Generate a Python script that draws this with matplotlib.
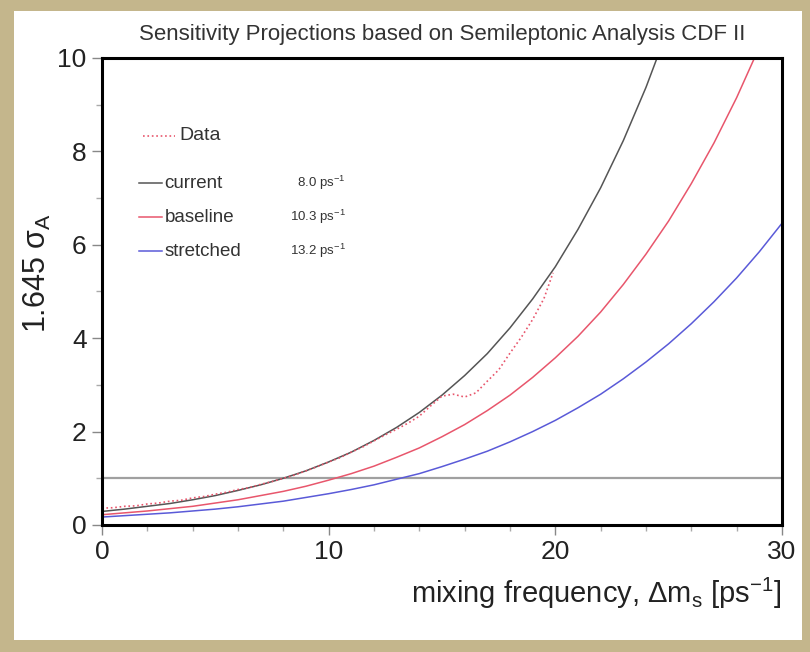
import numpy as np
import matplotlib.pyplot as plt
from matplotlib.patches import Rectangle
from matplotlib.ticker import MultipleLocator

plt.rcParams['font.family'] = ['Liberation Sans', 'DejaVu Sans']
plt.rcParams['mathtext.fontset'] = 'custom'
plt.rcParams['mathtext.rm'] = 'Liberation Sans'
plt.rcParams['mathtext.it'] = 'Liberation Sans:italic'

# curves (dm_s in ps^-1, 1.645 sigma_A)
x_current = [0, 1, 2, 3, 4, 5, 6, 7, 8, 9, 10, 11, 12, 13, 14, 15, 16, 17, 18, 19, 20, 21, 22, 23, 24, 25, 26]
y_current = [0.29, 0.34, 0.40, 0.46, 0.54, 0.63, 0.74, 0.86, 1.00, 1.16, 1.35, 1.56, 1.81, 2.09, 2.41,
             2.78, 3.20, 3.67, 4.22, 4.84, 5.53, 6.33, 7.22, 8.23, 9.37, 10.66, 12.1]

x_baseline = [0, 1, 2, 3, 4, 5, 6, 7, 8, 9, 10, 11, 12, 13, 14, 15, 16, 17, 18, 19, 20, 21, 22, 23, 24,
              25, 26, 27, 28, 29, 30]
y_baseline = [0.22, 0.26, 0.30, 0.35, 0.40, 0.47, 0.54, 0.63, 0.72, 0.83, 0.96, 1.10, 1.26, 1.45, 1.65,
              1.89, 2.15, 2.45, 2.78, 3.16, 3.58, 4.04, 4.56, 5.15, 5.80, 6.51, 7.31, 8.18, 9.15, 10.23, 11.4]

x_stretched = [0, 1, 2, 3, 4, 5, 6, 7, 8, 9, 10, 11, 12, 13, 14, 15, 16, 17, 18, 19, 20, 21, 22, 23, 24,
               25, 26, 27, 28, 29, 30]
y_stretched = [0.17, 0.20, 0.23, 0.26, 0.30, 0.34, 0.39, 0.45, 0.51, 0.59, 0.67, 0.76, 0.86, 0.98, 1.10,
               1.25, 1.41, 1.58, 1.78, 2.00, 2.24, 2.51, 2.80, 3.13, 3.49, 3.88, 4.31, 4.78, 5.29, 5.85, 6.46]

x_data = [0, 0.5, 1, 1.5, 2, 2.5, 3, 3.5, 4, 4.5, 5, 5.5, 6, 6.5, 7, 7.5, 8, 8.5, 9, 9.5, 10, 10.5, 11,
          11.5, 12, 12.5, 13, 13.5, 14, 14.5, 15, 15.5, 16, 16.5, 17, 17.5, 18, 18.5, 19, 19.5, 19.9]
y_data = [0.36, 0.37, 0.40, 0.41, 0.45, 0.47, 0.51, 0.53, 0.58, 0.61, 0.66, 0.70, 0.76, 0.80, 0.87, 0.93,
          1.00, 1.07, 1.16, 1.25, 1.35, 1.44, 1.56, 1.67, 1.80, 1.93, 2.05, 2.18, 2.33, 2.55, 2.76, 2.80,
          2.74, 2.83, 3.08, 3.32, 3.68, 4.02, 4.40, 4.85, 5.40]

scenarios = ['current', 'baseline', 'stretched']
reach = ['8.0', '10.3', '13.2']

c_black = '#555555'
c_red = '#e8566c'
c_blue = '#5a5ad8'

fig = plt.figure(figsize=(8.1, 6.52), dpi=100)
fig.patch.set_facecolor('#c4b68c')
panel = Rectangle((0.017, 0.018), 0.973, 0.965, transform=fig.transFigure,
                  facecolor='white', edgecolor='none', zorder=-5)
fig.add_artist(panel)

ax = fig.add_axes([0.1259, 0.1948, 0.8395, 0.7163])
ax.set_zorder(2)
ax.set_xlim(0, 30)
ax.set_ylim(0, 10)

ax.axhline(1.0, color='#a0a0a0', lw=1.6, zorder=1)
ax.plot(x_current, y_current, color=c_black, lw=1.1)
ax.plot(x_baseline, y_baseline, color=c_red, lw=1.1)
ax.plot(x_stretched, y_stretched, color=c_blue, lw=1.1)
ax.plot(x_data, y_data, color=c_red, lw=1.2, ls=':')

# hand made legend
ax.plot([1.8, 3.2], [8.33, 8.33], color=c_red, lw=1.2, ls=':')
ax.text(3.4, 8.33, 'Data', fontsize=14, va='center', color='#333333')
for i, (name, col) in enumerate(zip(scenarios, [c_black, c_red, c_blue])):
    yy = 7.32 - i * 0.73
    ax.plot([1.65, 2.65], [yy, yy], color=col, lw=1.1)
    ax.text(2.75, yy, name, fontsize=13.5, va='center', color='#333333')
    ax.text(10.75, yy, reach[i] + r' ps$^{\mathregular{-1}}$', fontsize=9.5, va='center',
            ha='right', color='#333333')

ax.set_title('Sensitivity Projections based on Semileptonic Analysis CDF II',
             fontsize=16, color='#333333', pad=13)

ax.xaxis.set_major_locator(MultipleLocator(10))
ax.xaxis.set_minor_locator(MultipleLocator(2))
ax.yaxis.set_major_locator(MultipleLocator(2))
ax.yaxis.set_minor_locator(MultipleLocator(1))
ax.tick_params(which='major', length=7, width=1, color='#888888', labelsize=19,
               labelcolor='#222222', pad=4)
ax.tick_params(which='minor', length=4, width=1, color='#aaaaaa')
for s in ax.spines.values():
    s.set_linewidth(2.2)
    s.set_color('black')

ax.set_xlabel(r'mixing frequency, $\Delta$m$_{\mathregular{s}}$ [ps$^{\mathregular{-1}}$]',
              fontsize=21, color='#222222', loc='right', labelpad=8)
ax.set_ylabel(r'1.645 σ$_{\mathregular{A}}$', fontsize=22, color='#222222')
ax.yaxis.set_label_coords(-0.072, 0.54)

fig.savefig('out.png', dpi=100, facecolor=fig.get_facecolor())
